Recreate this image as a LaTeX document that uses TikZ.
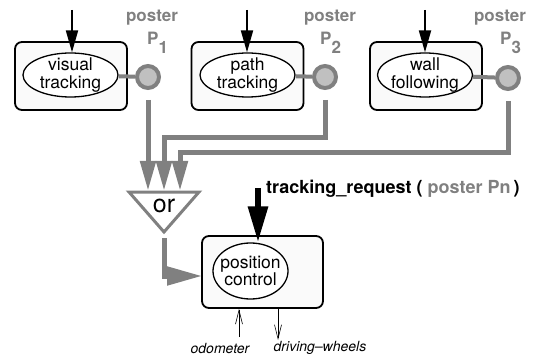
\documentclass[tikz,border=0pt]{standalone}
\usepackage{fontspec}
\setmainfont{TeX Gyre Heros}
\usetikzlibrary{positioning,arrows.meta,shapes.geometric}
\definecolor{postergray}{RGB}{128,128,128}
\definecolor{posterfill}{RGB}{192,192,192}
\definecolor{modulefill}{RGB}{250,250,250}
\newcommand{\fsz}[1]{\fontsize{#1}{#1}\selectfont}
\begin{document}
\begin{tikzpicture}[x=1pt,y=-1pt,
		module/.style={draw,line width=1.8pt,rounded corners=7pt,fill=modulefill,minimum width=112pt,minimum height=68pt,inner sep=0pt},
		activity/.style={ellipse,draw,line width=1.3pt,fill=white,minimum width=95pt,minimum height=44pt,inner sep=0pt},
		acttext/.style={align=center,font=\fsz{17.5},inner sep=0pt},
		poster/.style={circle,draw=postergray,fill=posterfill,line width=4pt,minimum size=22pt,inner sep=0pt},
		postlabel/.style={text=postergray,font=\bfseries\fsz{17},inner sep=0pt,anchor=base},
		link/.style={draw=postergray,line width=4pt},
		flow/.style={draw=postergray,line width=5pt,-{Triangle[length=30pt,width=15pt]}},
		request/.style={line width=2pt,-{Triangle[length=22pt,width=12pt]}},
		sense/.style={line width=0.6pt,-{Straight Barb[length=14pt,width=7pt]}},
		sensetext/.style={font=\itshape\fsz{14},inner sep=0pt}]
		\useasboundingbox (0,0) rectangle (556,358);
		
		% modules
		\node[module] (mod1) at (71,76) {};
		\node[module] (mod2) at (247.5,76) {};
		\node[module] (mod3) at (426,76) {};
		\node[activity,label={[acttext]center:visual\\tracking}] (act1) at (70.5,75) {};
		\node[activity,label={[acttext]center:path\\tracking}] (act2) at (247.5,75) {};
		\node[activity,label={[acttext]center:wall\\following}] (act3) at (425,75) {};
		
		% requests
		\coordinate (in1) at (72,10);
		\coordinate (in2) at (247,10);
		\coordinate (in3) at (425,10);
		\draw[request] (in1) -- (in1 |- act1.north);
		\draw[request] (in2) -- (in2 |- act2.north);
		\draw[request] (in3) -- (in3 |- act3.north);
		
		% posters
		\node[poster] (p1) at (148,77) {};
		\node[poster] (p2) at (325,77) {};
		\node[poster] (p3) at (508,78) {};
		\draw[link] (act1) -- (p1);
		\draw[link] (act2) -- (p2);
		\draw[link] (act3) -- (p3);
		\node[postlabel] (name1) at (152,21.5) {poster};
		\node[postlabel] (name2) at (330,21.5) {poster};
		\node[postlabel] (name3) at (500,21.5) {poster};
		\node[postlabel,anchor=base west] (sub1) at (147,45) {P\raisebox{-9pt}{1}};
		\node[postlabel,anchor=base west] (sub2) at (320,45) {P\raisebox{-9pt}{2}};
		\node[postlabel,anchor=base west] (sub3) at (500,45) {P\raisebox{-9pt}{3}};
		
		% or gate
		\coordinate (orL) at (129,192);
		\coordinate (orR) at (199,192);
		\coordinate (orA) at (164,232);
		\draw[draw=postergray,line width=3pt,fill=white,line join=miter] (orL) -- (orR) -- (orA) -- cycle;
		\node[font=\fsz{25},inner sep=0pt] (or) at (164,206) {or};
		\coordinate (to1) at (148,191);
		\coordinate (to2) at (164,191);
		\coordinate (to3) at (180,191);
		\coordinate (bend2) at (164,138);
		\coordinate (bend3) at (180,153);
		\draw[flow] ([yshift=-10pt]p1.south) -- (to1);
		\draw[flow] ([yshift=-10pt]p2.south) |- (bend2) -- (to2);
		\draw[flow] ([yshift=-10pt]p3.south) |- (bend3) -- (to3);
		
		% position control
		\node[module,minimum width=121pt,minimum height=72pt] (pcbox) at (262.5,272) {};
		\node[activity,minimum width=75pt,minimum height=56pt,label={[acttext]center:position\\control}] (pcact) at (250.5,271) {};
		\coordinate (pcin) at (202,276);
		\draw[flow,-{Triangle[length=35pt,width=18pt]}] ([yshift=-6pt]orA) |- (pcin);
		
		% tracking request
		\coordinate (req) at (258,188);
		\draw[line width=6pt,-{Triangle[length=36pt,width=19pt]}] (req) -- (req |- pcact.north);
		\node[anchor=west,inner sep=0pt,font=\bfseries\fsz{18}] (reqtext) at (266,189) {tracking\_request ( \textcolor{postergray}{poster Pn}\,)};
		
		% odometer and wheels
		\coordinate (odo) at (239,337);
		\coordinate (drv) at (278,340);
		\draw[sense] (odo) -- (odo |- pcbox.south);
		\draw[sense] (drv |- pcbox.south) -- (drv);
		\node[sensetext] (odolabel) at (220,348) {odometer};
		\node[sensetext] (drvlabel) at (320,348) {driving--wheels};
\end{tikzpicture}
\end{document}
